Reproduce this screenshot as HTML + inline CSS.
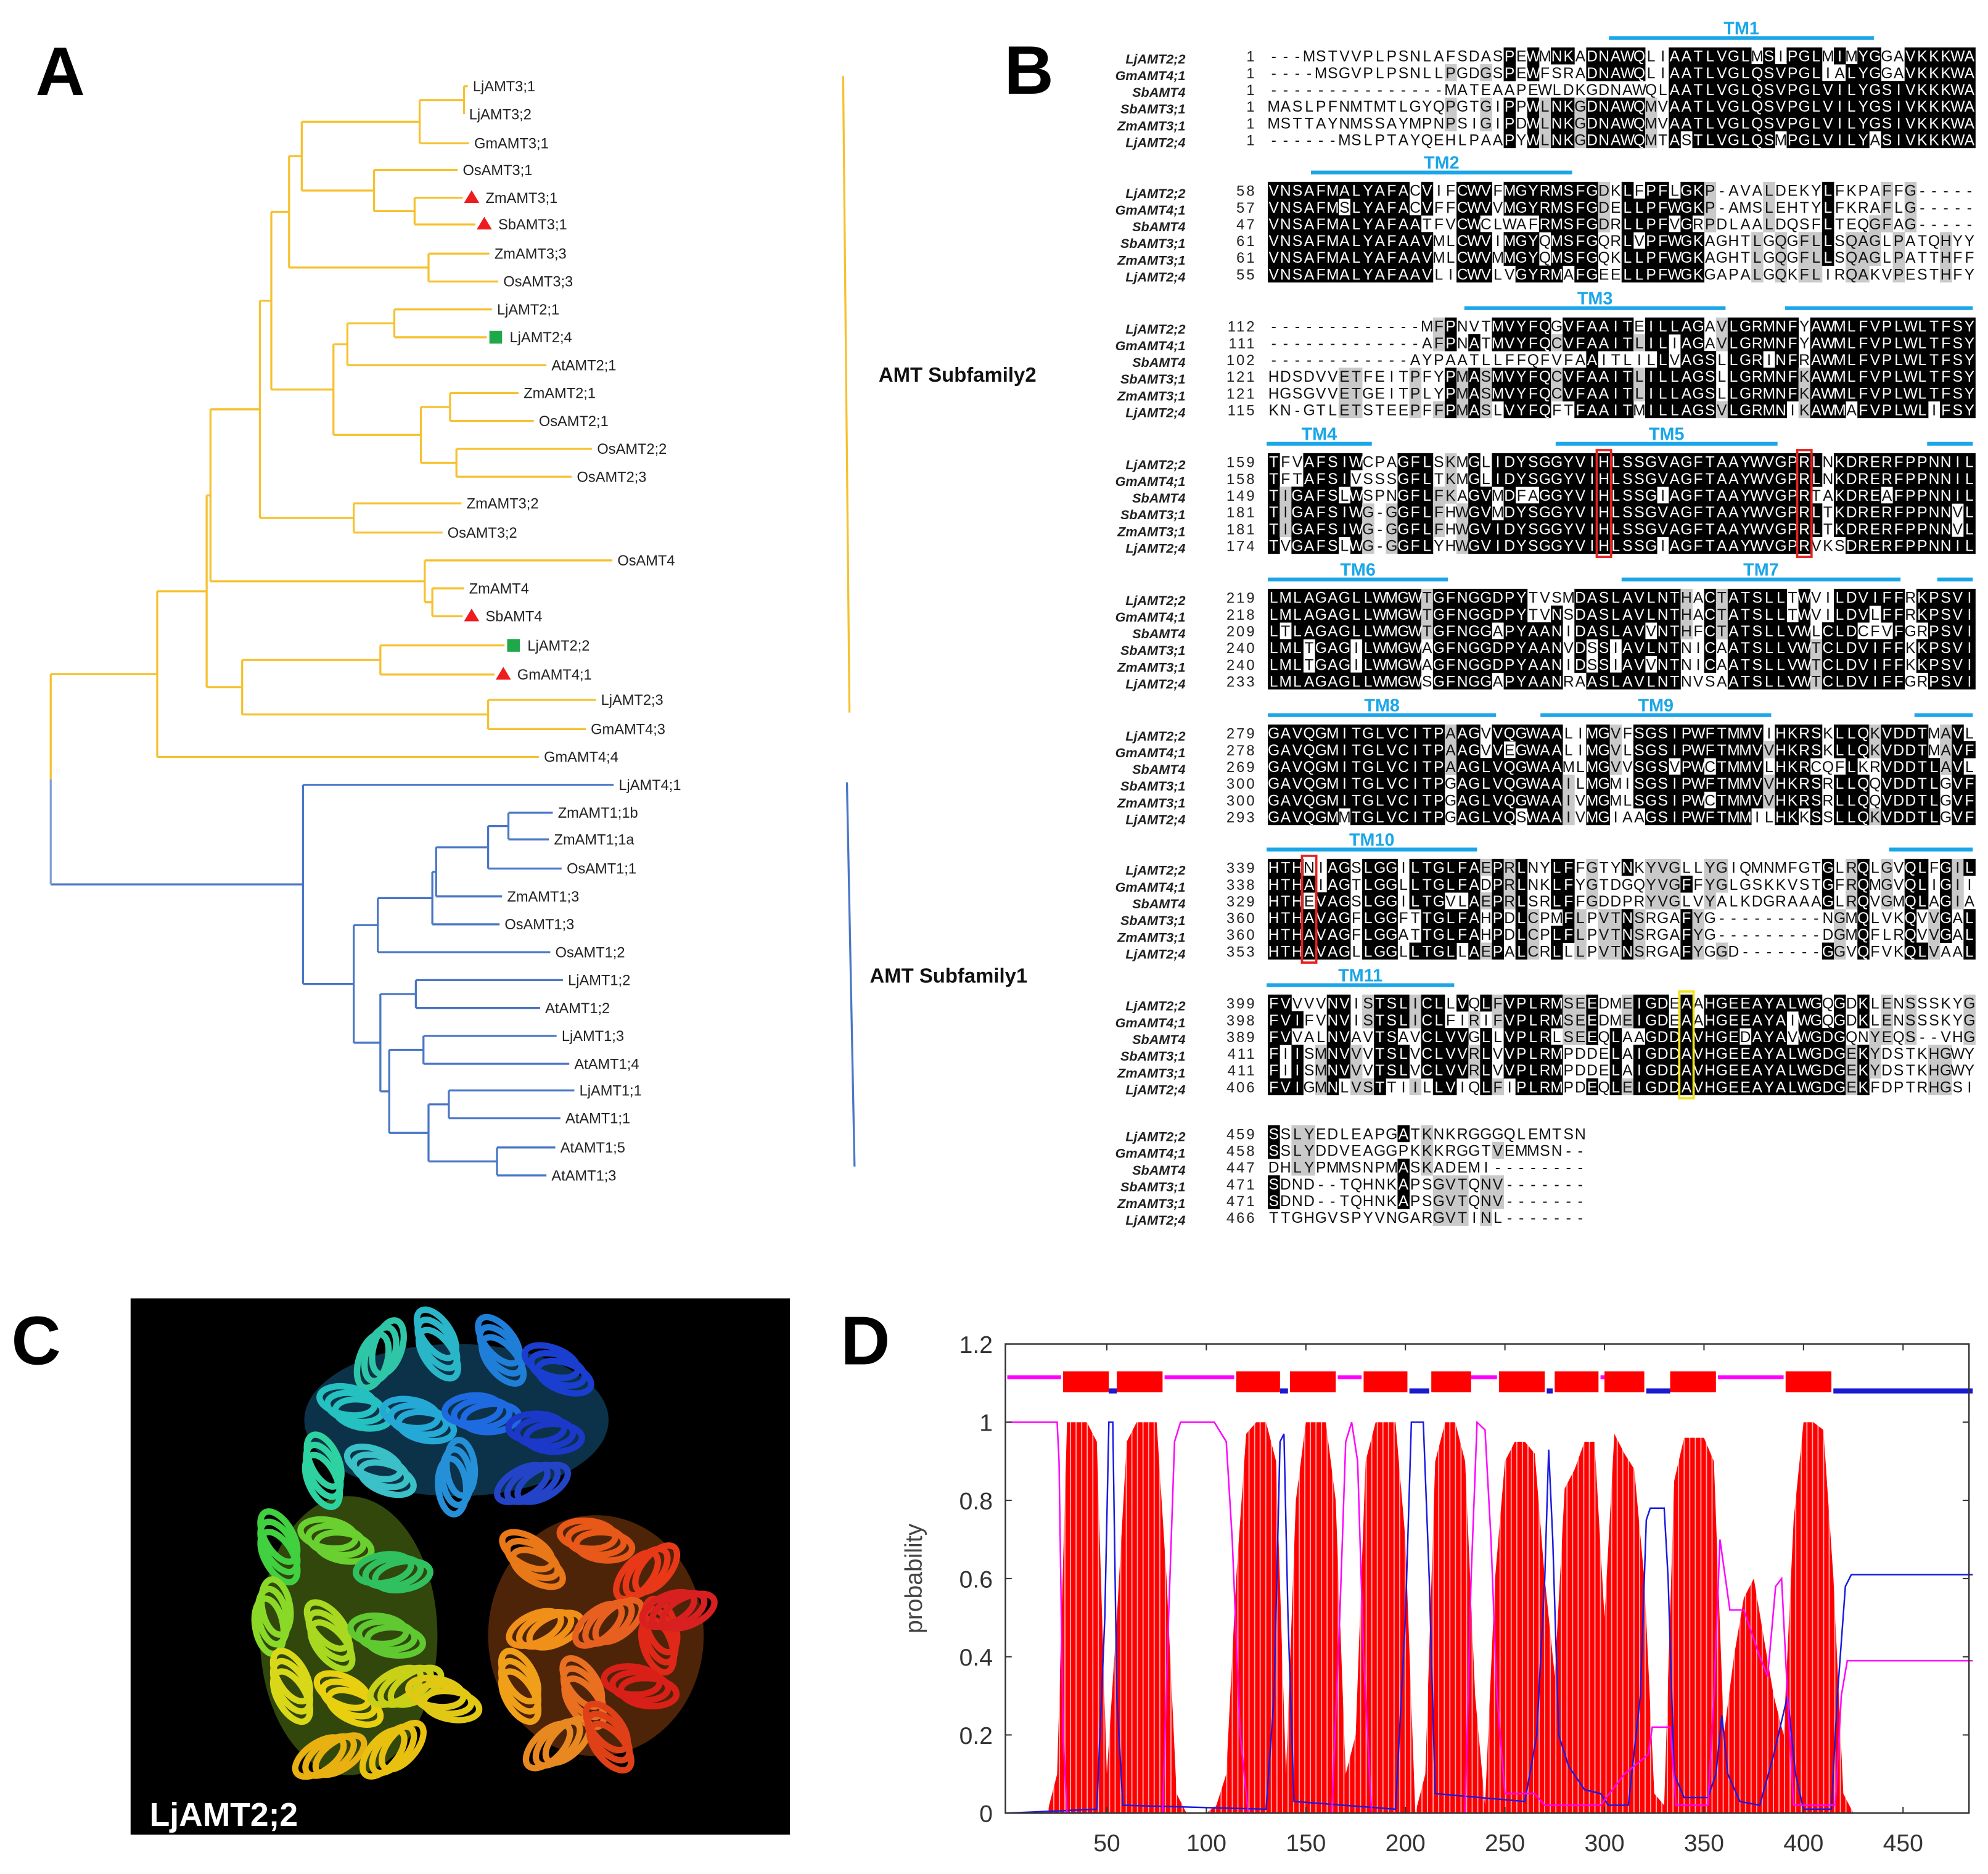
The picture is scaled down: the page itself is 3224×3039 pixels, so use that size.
<!DOCTYPE html>
<html><head><meta charset="utf-8">
<style>
html,body{margin:0;padding:0;background:#fff;}
svg{display:block;}
text{font-family:"Liberation Sans",sans-serif;}
</style></head>
<body>
<svg id="fig" width="3224" height="3039" viewBox="0 0 1568 1478" xmlns="http://www.w3.org/2000/svg">
<defs>
<pattern id="stripes" patternUnits="userSpaceOnUse" x="0" y="0" width="4.4" height="10">
<rect x="0" y="0" width="3.6" height="10" fill="#ff0000"/>
<rect x="3.6" y="0" width="0.8" height="10" fill="#ffb0b0"/>
</pattern>
</defs>
<rect x="0" y="0" width="1568" height="1478" fill="#fff"/>
<g id="panelA"></g>
<g id="panelB"></g>
<g id="panelC"></g>
<g id="panelD"></g>
<text x="28" y="75" font-size="54" font-weight="bold">A</text>
<text x="792" y="74" font-size="54" font-weight="bold">B</text>
<text x="9" y="1076" font-size="54" font-weight="bold">C</text>
<text x="663" y="1076" font-size="54" font-weight="bold">D</text>
</svg>
<script>
const NS="http://www.w3.org/2000/svg";
function mk(tag,attrs,parent){const e=document.createElementNS(NS,tag);for(const k in attrs)e.setAttribute(k,attrs[k]);if(parent)parent.appendChild(e);return e;}

/* ---------------- Panel A : tree ---------------- */
const leafNames=["LjAMT3;1","LjAMT3;2","GmAMT3;1","OsAMT3;1","ZmAMT3;1","SbAMT3;1","ZmAMT3;3","OsAMT3;3","LjAMT2;1","LjAMT2;4","AtAMT2;1","ZmAMT2;1","OsAMT2;1","OsAMT2;2","OsAMT2;3","ZmAMT3;2","OsAMT3;2","OsAMT4","ZmAMT4","SbAMT4","LjAMT2;2","GmAMT4;1","LjAMT2;3","GmAMT4;3","GmAMT4;4","LjAMT4;1","ZmAMT1;1b","ZmAMT1;1a","OsAMT1;1","ZmAMT1;3","OsAMT1;3","OsAMT1;2","LjAMT1;2","AtAMT1;2","LjAMT1;3","AtAMT1;4","LjAMT1;1","AtAMT1;1","AtAMT1;5","AtAMT1;3"];
const leafY=[68,90,113,134,156,177,200,222,244,266,288,310,332,354,376,397,420,442,464,486,509,532,552,575,597,619,641,662,685,707,729,751,773,795,817,839,860,882,905,927];
const leafLabelX=[373,370,374,365,383,393,390,397,392,402,435,413,425,471,455,368,353,487,370,383,416,408,474,466,429,488,440,437,447,400,398,438,448,430,443,453,457,446,442,435];
const leafMarker={"ZmAMT3;1":"tri","SbAMT3;1":"tri","SbAMT4":"tri","GmAMT4;1":"tri","LjAMT2;4":"sq","LjAMT2;2":"sq"};
const leafIdx={};leafNames.forEach((n,i)=>leafIdx[n]=i);
const yellowTree=[124,[163,[166,[205,[214,[228,[238,[331,[366,"LjAMT3;1","LjAMT3;2"],"GmAMT3;1"],[295,"OsAMT3;1",[327,"ZmAMT3;1","SbAMT3;1"]]],[338,"ZmAMT3;3","OsAMT3;3"]],[263,[274,[311,"LjAMT2;1","LjAMT2;4"],"AtAMT2;1"],[332,[355,"ZmAMT2;1","OsAMT2;1"],[360,"OsAMT2;2","OsAMT2;3"]]]],[279,"ZmAMT3;2","OsAMT3;2"]],[335,"OsAMT4",[341,"ZmAMT4","SbAMT4"]]],[191,[300,"LjAMT2;2","GmAMT4;1"],[385,"LjAMT2;3","GmAMT4;3"]]],"GmAMT4;4"];
const blueTree=[239,"LjAMT4;1",[279,[298,[341,[344,[385,[401,"ZmAMT1;1b","ZmAMT1;1a"],"OsAMT1;1"],"ZmAMT1;3"],"OsAMT1;3"],"OsAMT1;2"],[300,[328,"LjAMT1;2","AtAMT1;2"],[307,[334,"LjAMT1;3","AtAMT1;4"],[338,[354,"LjAMT1;1","AtAMT1;1"],[392,"AtAMT1;5","AtAMT1;3"]]]]]];
const gA=document.getElementById('panelA');
function leafEnd(n){const i=leafIdx[n];const m=leafMarker[n];return m?leafLabelX[i]-18:leafLabelX[i]-4;}
function drawNode(node,color){
  if(typeof node==="string"){return {x:leafEnd(node),y:leafY[leafIdx[node]]};}
  const x=node[0];const kids=node.slice(1).map(k=>({k,p:drawNode(k,color)}));
  const ys=kids.map(o=>o.p.y);const ymin=Math.min(...ys),ymax=Math.max(...ys);
  const v=mk('line',{x1:x,y1:ymin,x2:x,y2:ymax,stroke:color,'stroke-width':1.6},gA);
  
  
  kids.forEach(o=>{const h=mk('line',{x1:x,y1:o.p.y,x2:o.p.x,y2:o.p.y,stroke:color,'stroke-width':1.6},gA);
    
    });
  return {x,y:(ymin+ymax)/2};
}
const ya=drawNode(yellowTree,"#f6c12f");
const yb=drawNode(blueTree,"#4a76c6");
[[ya,"#f6c12f"],[yb,"#4a76c6"]].forEach(([p,c])=>{const h=mk('line',{x1:40,y1:p.y,x2:p.x,y2:p.y,stroke:c,'stroke-width':1.6},gA);
  
  });
const r1=mk('line',{x1:40,y1:ya.y,x2:40,y2:(ya.y+yb.y)/2,stroke:"#f6c12f",'stroke-width':1.6},gA);


const r2=mk('line',{x1:40,y1:(ya.y+yb.y)/2,x2:40,y2:yb.y,stroke:"#7fa0d8",'stroke-width':1.6},gA);


leafNames.forEach((n,i)=>{
  const t=mk('text',{x:leafLabelX[i],y:leafY[i]+4,'font-size':11.5,fill:"#222"},gA);t.textContent=n;
  
  
  const m=leafMarker[n];
  if(m==="tri"){const cx=leafLabelX[i]-11,cy=leafY[i];
    const p=mk('polygon',{points:`${cx-6},${cy+4} ${cx+6},${cy+4} ${cx},${cy-6}`,fill:"#ee1c1c"},gA);
    
    }
  if(m==="sq"){const cx=leafLabelX[i]-11,cy=leafY[i];
    const p=mk('rect',{x:cx-5,y:cy-5,width:10,height:10,fill:"#1fa84a"},gA);
    
    }
});
const sb1=mk('line',{x1:665,y1:60,x2:670,y2:562,stroke:"#f6c12f",'stroke-width':1.6},gA);


const sb2=mk('line',{x1:668,y1:617,x2:674,y2:920,stroke:"#4a76c6",'stroke-width':1.6},gA);


const st1=mk('text',{x:693,y:301,'font-size':16,'font-weight':'bold',fill:"#111"},gA);st1.textContent="AMT Subfamily2";


const st2=mk('text',{x:686,y:775,'font-size':16,'font-weight':'bold',fill:"#111"},gA);st2.textContent="AMT Subfamily1";



/* ---------------- Panel B : alignment ---------------- */
const seqNames=["LjAMT2;2","GmAMT4;1","SbAMT4","SbAMT3;1","ZmAMT3;1","LjAMT2;4"];
const blockY=[44,150,257,364,471,578,684,791,894];
const blockStarts=[[1,1,1,1,1,1],[58,57,47,61,61,55],[112,111,102,121,121,115],[159,158,149,181,181,174],[219,218,209,240,240,233],[279,278,269,300,300,293],[339,338,329,360,360,353],[399,398,389,411,411,406],[459,458,447,471,471,466]];
const blockSeqs=[
["---MSTVVPLPSNLAFSDASPEWMNKADNAWQLIAATLVGLMSIPGLMIMYGGAVKKKWA","----MSGVPLPSNLLPGDGSPEWFSRADNAWQLIAATLVGLQSVPGLIALYGGAVKKKWA","---------------MATEAAPEWLDKGDNAWQLAATLVGLQSVPGLVILYGSIVKKKWA","MASLPFNMTMTLGYQPGTGIPPWLNKGDNAWQMVAATLVGLQSVPGLVILYGSIVKKKWA","MSTTAYNMSSAYMPNPSIGIPDWLNKGDNAWQMVAATLVGLQSVPGLVILYGSIVKKKWA","------MSLPTAYQEHLPAAPYWLNKGDNAWQMTASTLVGLQSMPGLVILYASIVKKKWA"],
["VNSAFMALYAFACVIFCWVFMGYRMSFGDKLFPFLGKP-AVALDEKYLFKPAFFG-----","VNSAFMSLYAFACVFFCWVVMGYRMSFGDELLPFWGKP-AMSLEHTYLFKRAFLG-----","VNSAFMALYAFAATFVCWCLWAFRMSFGDRLLPFVGRPDLAALDQSFLTEQGFAG-----","VNSAFMALYAFAAVMLCWVIMGYQMSFGQRLVPFWGKAGHTLGQGFLLSQAGLPATQHYY","VNSAFMALYAFAAVMLCWVMMGYQMSFGQKLLPFWGKAGHTLGQGFLLSQAGLPATTHFF","VNSAFMALYAFAAVLICWVLVGYRMAFGEELLPFWGKGAPALGQKFLIRQAKVPESTHFY"],
["-------------MFPNVTMVYFQGVFAAITEILLAGAVLGRMNFYAWMLFVPLWLTFSY","-------------AFPNATMVYFQCVFAAITLILIAGAVLGRMNFYAWMLFVPLWLTFSY","------------AYPAATLLFFQFVFAAITLILLVAGSLLGRINFRAWMLFVPLWLTFSY","HDSDVVETFEITPFYPMASMVYFQCVFAAITLILLAGSLLGRMNFKAWMLFVPLWLTFSY","HGSGVVETGEITPLYPMASMVYFQCVFAAITLILLAGSLLGRMNFKAWMLFVPLWLTFSY","KN-GTLETSTEEPFFPMASLVYFQFTFAAITMILLAGSVLGRMNIKAWMAFVPLWLIFSY"],
["TFVAFSIWCPAGFLSKMGLIDYSGGYVIHLSSGVAGFTAAYWVGPRLNKDRERFPPNNIL","TFTAFSIVSSSGFLTKMGLIDYSGGYVIHLSSGVAGFTAAYWVGPRLNKDRERFPPNNIL","TIGAFSLWSPNGFLFKAGVMDFAGGYVIHLSSGIAGFTAAYWVGPRTAKDREAFPPNNIL","TIGAFSIWG-GGFLFHWGVMDYSGGYVIHLSSGVAGFTAAYWVGPRLTKDRERFPPNNVL","TIGAFSIWG-GGFLFHWGVIDYSGGYVIHLSSGVAGFTAAYWVGPRLTKDRERFPPNNVL","TVGAFSLWG-GGFLYHWGVIDYSGGYVIHLSSGIAGFTAAYWVGPRVKSDRERFPPNNIL"],
["LMLAGAGLLWMGWTGFNGGDPYTVSMDASLAVLNTHACTATSLLTWVILDVIFFRKPSVI","LMLAGAGLLWMGWTGFNGGDPYTVNSDASLAVLNTHACTATSLLTWVILDVLFFRKPSVI","LTLAGAGLLWMGWTGFNGGAPYAANIDASLAVVNTHFCTATSLLVWLCLDCFVFGRPSVI","LMLTGAGILWMGWAGFNGGDPYAANVDSSIAVLNTNICAATSLLVWTCLDVIFFKKPSVI","LMLTGAGILWMGWAGFNGGDPYAANIDSSIAVVNTNICAATSLLVWTCLDVIFFKKPSVI","LMLAGAGLLWMGWSGFNGGAPYAANRAASLAVLNTNVSAATSLLVWTCLDVIFFGRPSVI"],
["GAVQGMITGLVCITPAAGVVQGWAALIMGVFSGSIPWFTMMVIHKRSKLLQKVDDTMAVL","GAVQGMITGLVCITPAAGVVEGWAALIMGVLSGSIPWFTMMVVHKRSKLLQKVDDTMAVF","GAVQGMITGLVCITPAAGLVQGWAAMLMGVVSGSVPWCTMMVLHKRCQFLKRVDDTLAVL","GAVQGMITGLVCITPGAGLVQGWAAILMGMISGSIPWFTMMVVHKRSRLLQQVDDTLGVF","GAVQGMITGLVCITPGAGLVQGWAAIVMGMLSGSIPWCTMMVVHKRSRLLQQVDDTLGVF","GAVQGMMTGLVCITPGAGLVQSWAAIVMGIAAGSIPWFTMMILHKKSSLLQKVDDTLGVF"],
["HTHNIAGSLGGILTGLFAEPRLNYLFFGTYNKYVGLLYGIQMNMFGTGLRQLGVQLFGIL","HTHAIAGTLGGLLTGLFADPRLNKLFYGTDGQYVGFFYGLGSKKVSTGFRQMGVQLIGII","HTHEVAGSLGGILTGVLAEPRLSRLFFGDDPRYVGLVYALKDGRAAAGLRQVGMQLAGIA","HTHAVAGFLGGFTTGLFAHPDLCPMFLPVTNSRGAFYG---------NGMQLVKQVVGAL","HTHAVAGFLGGATTGLFAHPDLCPLFLPVTNSRGAFYG---------DGMQFLRQVVGAL","HTHAVAGLLGGLLTGLLAEPALCRLLLPVTNSRGAFYGGD-------GGVQFVKQLVAAL"],
["FVVVVNVISTSLICLLVQLFVPLRMSEEDMEIGDEAAHGEEAYALWGQGDKLENSSSKYG","FVIFVNVISTSLICLFIRIFVPLRMSEEDMEIGDEAAHGEEAYAIWGQGDKLENSSSKYG","FVVALNVAVTSAVCLVVGLLVPLRLSEEQLAAGDDAVHGEDAYAVWGDGQNYEQS--VHG","FIISMNVVVTSLVCLVVRLVVPLRMPDDELAIGDDAVHGEEAYALWGDGEKYDSTKHGWY","FIISMNVVVTSLVCLVVRLVVPLRMPDDELAIGDDAVHGEEAYALWGDGEKYDSTKHGWY","FVIGMNLVSTTIILLVIQLFIPLRMPDEQLEIGDDAVHGEEAYALWGDGEKFDPTRHGSI"],
["SSLYEDLEAPGATKNKRGGGQLEMTSN","SSLYDDVEAGGPKKKRGGTVEMMSN--","DHLYPMMSNPMASKADEMI--------","SDND--TQHNKAPSGVTQNV-------","SDND--TQHNKAPSGVTQNV-------","TTGHGVSPYVNGARGVTINL-------"]];
const tmLabels=[["TM1"],["TM2"],["TM3",""],["TM4","TM5",""],["TM6","TM7",""],["TM8","TM9",""],["TM10",""],["TM11"],[]];
const tmX1=[[1269],[1034],[1155,1408],[999,1227,1520],[1000,1279,1528],[1000,1215,1510],[999,1490],[999],[]];
const tmX2=[[1478],[1240],[1361,1556],[1082,1402,1556],[1142,1499,1556],[1180,1397,1556],[1165,1556],[1147],[]];
const gB=document.getElementById('panelB');
const X0=1000,CW=9.3,RH=13.2;
blockSeqs.forEach((seqs,b)=>{
  const by=blockY[b];
  const gb=mk('g',{},gB);
  
  
  const L=seqs[0].length;
  for(let c=0;c<L;c++){
    const cnt={};seqs.forEach(s=>{const ch=s[c];if(ch&&ch!=='-')cnt[ch]=(cnt[ch]||0)+1;});
    let best='',bc=0;for(const k in cnt)if(cnt[k]>bc){bc=cnt[k];best=k;}
    seqs.forEach((s,r)=>{
      const ch=s[c];if(ch===best&&bc>=3){
        const rc=mk('rect',{x:X0+c*CW,y:by+r*RH-6.6,width:CW+0.2,height:RH+0.2,fill:bc>=4?"#000":"#c9c9c9"},gb);
        
        
      }
    });
  }
  seqs.forEach((s,r)=>{
    const y=by+r*RH;
    const nm=mk('text',{x:935,y:y+6,'font-size':10.5,'font-weight':'bold','font-style':'italic','text-anchor':'end',fill:"#222"},gb);nm.textContent=seqNames[r];
    
    
    const num=mk('text',{x:991,y:y+4.5,'font-size':11.5,'text-anchor':'end','letter-spacing':'1.5',fill:"#222"},gb);num.textContent=blockStarts[b][r];
    
    
    for(let c=0;c<s.length;c++){
      const cnt={};seqs.forEach(q=>{const ch=q[c];if(ch&&ch!=='-')cnt[ch]=(cnt[ch]||0)+1;});
      const ch=s[c];const white=(cnt[ch]||0)>=4;
      const t=mk('text',{x:X0+c*CW+CW/2,y:y+4.5,'font-size':12,'text-anchor':'middle',fill:white?"#fff":"#111"},gb);t.textContent=ch;
      
      
    }
  });
  tmLabels[b].forEach((lab,i)=>{
    const ly=by-14;
    const ln=mk('line',{x1:tmX1[b][i],y1:ly,x2:tmX2[b][i],y2:ly,stroke:"#1aa6e8",'stroke-width':3},gb);
    
    
    if(lab){const t=mk('text',{x:(tmX1[b][i]+tmX2[b][i])/2,y:ly-3,'font-size':14,'font-weight':'bold','text-anchor':'middle',fill:"#1aa6e8"},gb);t.textContent=lab;
      
      }
  });
});
function box(b,c,color){const by=blockY[b];const r=mk('rect',{x:X0+c*CW-1,y:by-9,width:CW+2,height:6*RH+5,fill:'none',stroke:color,'stroke-width':1.8},gB);return r;}
const bx1=box(3,28,"#e52222");
const bx2=box(3,45,"#e52222");
const bx3=box(6,3,"#e52222");
const bx4=box(7,35,"#f2e21a");

/* ---------------- Panel C : structure ---------------- */
const gC=document.getElementById('panelC');
const bg=mk('rect',{x:103,y:1024,width:520,height:423,fill:"#000"},gC);


const blobs=[[360,1120,120,60,"#1f8fd0"],[275,1290,70,110,"#8ccc20"],[470,1290,85,95,"#e06818"]];
blobs.forEach(b=>{const e=mk('ellipse',{cx:b[0],cy:b[1],rx:b[2],ry:b[3],fill:b[4],opacity:0.35},gC);
  
  });
const helices=[[300,1068,"#2fc6a8"],[345,1060,"#29b6c8"],[395,1065,"#1f7fd8"],[440,1080,"#1a3fd0"],[280,1110,"#25c0c0"],[330,1120,"#24a8d6"],[380,1115,"#1e6ae0"],[430,1130,"#1c38c8"],[300,1160,"#3ac0c6"],[360,1165,"#2590d8"],[420,1170,"#2444c8"],[255,1160,"#2ed2a0"],
[220,1220,"#40d040"],[265,1215,"#6ad030"],[310,1240,"#30c060"],[215,1275,"#8ad828"],[260,1290,"#a8d820"],[305,1290,"#60c830"],[230,1330,"#d8d818"],[275,1340,"#e8d010"],[320,1330,"#c8d018"],[260,1385,"#e8b010"],[310,1380,"#e8c010"],[350,1340,"#e0c814"],
[420,1230,"#e87818"],[470,1215,"#e85818"],[510,1240,"#e83818"],[430,1285,"#f09018"],[480,1280,"#e86020"],[520,1290,"#e02818"],[410,1330,"#f0a018"],[460,1335,"#e87020"],[505,1330,"#d82018"],[440,1375,"#e88820"],[480,1370,"#e04018"],[535,1270,"#d82020"]];
helices.forEach(h=>{
  for(let k=0;k<3;k++){
    const e=mk('ellipse',{cx:h[0]+k*7-7,cy:h[1]+k*4-4,rx:22,ry:11,fill:'none',stroke:h[2],'stroke-width':5,transform:`rotate(${(h[0]*7+h[1])%180} ${h[0]} ${h[1]})`},gC);
    
    
  }
});
const lbl=mk('text',{x:118,y:1440,'font-size':26,'font-weight':'bold',fill:"#fff"},gC);lbl.textContent="LjAMT2;2";



/* ---------------- Panel D : TMHMM-like plot ---------------- */
const redRes=[0,5,10,15,20,25,30,35,40,45,50,55,60,65,70,75,80,85,90,95,100,105,110,115,120,125,130,135,140,145,150,155,160,165,170,175,180,185,190,195,200,205,210,215,220,225,230,235,240,245,250,255,260,265,270,275,280,285,290,295,300,305,310,315,320,325,330,335,340,345,350,355,360,365,370,375,380,385,390,395,400,405,410,415,420,425];
const redVal=[0,0,0,0,0,0.1,1,1,1,0.95,0.1,0.5,0.95,1,1,1,0.6,0.05,0,0,0,0.02,0.1,0.6,0.97,1,1,0.9,0.1,0.8,1,1,1,0.8,0.1,0.2,0.9,1,1,1,0.7,0,0.1,0.9,1,1,0.9,0.3,0.02,0.6,0.9,0.95,0.95,0.92,0.6,0.35,0.83,0.88,0.95,0.95,0.5,0.97,0.92,0.88,0.6,0.05,0.02,0.85,0.96,0.96,0.96,0.9,0.2,0.4,0.55,0.6,0.45,0.3,0.2,0.75,1,1,0.98,0.6,0.05,0];
const blueRes=[0,45,49,51,53,55,58,130,134,137,139,141,144,195,200,203,209,212,215,260,266,270,272,274,277,282,290,298,302,312,318,321,323,330,332,335,340,352,356,359,362,368,378,385,392,396,400,414,417,421,424,485];
const blueVal=[0,0.01,0.5,1,1,0.3,0.02,0.01,0.3,0.95,0.97,0.5,0.03,0.01,0.5,1,1,0.6,0.05,0.03,0.2,0.6,0.93,0.7,0.2,0.12,0.06,0.05,0.02,0.02,0.3,0.75,0.78,0.78,0.6,0.1,0.04,0.04,0.1,0.25,0.1,0.03,0.02,0.15,0.3,0.1,0.01,0.01,0.3,0.58,0.61,0.61];
const magRes=[0,25,26,28,30,78,81,84,87,104,110,113,117,121,163,167,170,173,176,179,183,230,233,236,240,243,246,250,265,270,298,310,322,324,333,336,352,355,358,363,370,378,382,386,389,392,395,416,419,422,485];
const magVal=[1,1,0.9,0.2,0,0,0.5,0.95,1,1,0.95,0.7,0.2,0,0,0.5,0.95,1,0.9,0.4,0,0,0.6,1,0.98,0.7,0.3,0.05,0.05,0.02,0.02,0.1,0.15,0.22,0.22,0.02,0.02,0.3,0.7,0.52,0.52,0.4,0.35,0.58,0.6,0.3,0.02,0.02,0.3,0.39,0.39];
const topoStart=[0,28,51,55,79,115,137,142,166,179,202,213,233,247,271,275,298,300,321,333,357,391,415];
const topoEnd=[27,51,55,78,114,137,141,165,178,201,212,233,246,270,274,297,300,320,333,356,390,414,485];
const topoType=["out","tm","in","tm","out","tm","in","tm","out","tm","in","tm","out","tm","in","tm","out","tm","in","tm","out","tm","in"];
const yTicks=[0,0.2,0.4,0.6,0.8,1,1.2];
const yTickLabels=["0","0.2","0.4","0.6","0.8","1","1.2"];
const xTicks=[50,100,150,200,250,300,350,400,450];
const xTickLabels=["50","100","150","200","250","300","350","400","450"];
const PL=793,PR=1553,PT=1060,PB=1430;
const xs=v=>794.5+v*1.57;
const ys=v=>PB-(v/1.2)*(PB-PT);
const gD=document.getElementById('panelD');
// red striped area from TM probability
const redD='M'+xs(redRes[0]).toFixed(1)+','+PB+' '+redRes.map((r,i)=>'L'+xs(r).toFixed(1)+','+ys(redVal[i]).toFixed(1)).join(' ')+' L'+xs(redRes[redRes.length-1]).toFixed(1)+','+PB+' Z';
const redArea=mk('path',{d:redD,fill:'url(#stripes)'},gD);


function line(res,val,color,name){
  const d=res.map((r,i)=>(i?'L':'M')+xs(r).toFixed(1)+','+ys(val[i]).toFixed(1)).join(' ');
  const p=mk('path',{d,fill:'none',stroke:color,'stroke-width':1.2},gD);
  
  
}
line(blueRes,blueVal,"#1a1ae0","inside-probability-line");
line(magRes,magVal,"#ff00ff","outside-probability-line");
topoStart.forEach((s,i)=>{
  const e=topoEnd[i];const t=topoType[i];
  let el;
  if(t==="tm")el=mk('rect',{x:xs(s),y:ys(1.13),width:xs(e)-xs(s),height:ys(1.08)-ys(1.13)+1,fill:"#ff0000"},gD);
  else if(t==="out")el=mk('rect',{x:xs(s),y:ys(1.115)-1.5,width:xs(e)-xs(s),height:3,fill:"#ff00ff"},gD);
  else el=mk('rect',{x:xs(s),y:ys(1.08)-2,width:xs(e)-xs(s),height:4,fill:"#1a1ad0"},gD);
  
  
});
const fr=mk('rect',{x:PL,y:PT,width:PR-PL,height:PB-PT,fill:'none',stroke:"#333",'stroke-width':1.2},gD);


yTicks.forEach((v,i)=>{
  const t=mk('text',{x:783,y:ys(v)+7,'font-size':19,'text-anchor':'end',fill:"#333"},gD);t.textContent=yTickLabels[i];
  
  
  const tk=mk('line',{x1:PL,y1:ys(v),x2:PL+5,y2:ys(v),stroke:"#333"},gD);
  
  
  const tk2=mk('line',{x1:PR,y1:ys(v),x2:PR-5,y2:ys(v),stroke:"#333"},gD);
  
  
});
xTicks.forEach((v,i)=>{
  const t=mk('text',{x:xs(v),y:1460,'font-size':19,'text-anchor':'middle',fill:"#333"},gD);t.textContent=xTickLabels[i];
  
  
  const tk=mk('line',{x1:xs(v),y1:PB,x2:xs(v),y2:PB-5,stroke:"#333"},gD);
  
  
  const tk2=mk('line',{x1:xs(v),y1:PT,x2:xs(v),y2:PT+5,stroke:"#333"},gD);
  
  
});
const yt=mk('text',{x:0,y:0,'font-size':19,'text-anchor':'middle',fill:"#444",transform:'translate(727,1245) rotate(-90)'},gD);yt.textContent="probability";


</script>
</body></html>
